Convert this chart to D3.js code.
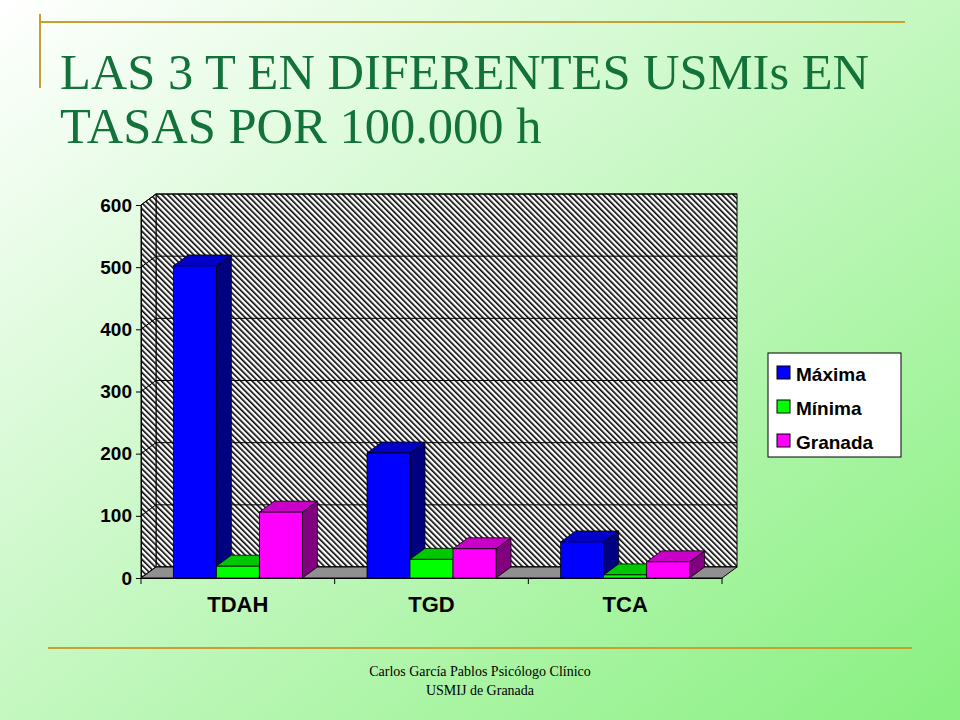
<!DOCTYPE html>
<html><head><meta charset="utf-8">
<script src="https://cdn.jsdelivr.net/npm/d3@7"></script>
<style>body{margin:0}svg{display:block}</style>
</head><body><div id="chart"></div>
<script>
const categories = ["TDAH", "TGD", "TCA"];
const seriesNames = ["Máxima", "Mínima", "Granada"];
const maxima = [502, 201, 58];
const minima = [19, 30, 5];
const granada = [106, 47, 26];
const yTicks = [0, 100, 200, 300, 400, 500, 600];
const colors = [["#0000ff", "#000080", "#0000c8"], ["#00ff00", "#008000", "#00c800"], ["#ff00ff", "#800080", "#c800c8"]];

const W = 960, H = 720;
const svg = d3.select("#chart").append("svg").attr("width", W).attr("height", H);
const defs = svg.append("defs");
const bg = defs.append("linearGradient").attr("id", "bg").attr("x1", 0).attr("y1", 0).attr("x2", 1).attr("y2", 1);
bg.append("stop").attr("offset", "0%").attr("stop-color", "#ffffff");
bg.append("stop").attr("offset", "100%").attr("stop-color", "#88f080");
const hatch = defs.append("pattern").attr("id", "hatch").attr("width", 4).attr("height", 4)
  .attr("patternUnits", "userSpaceOnUse").attr("patternTransform", "rotate(-45)");
hatch.append("rect").attr("width", 4).attr("height", 4).attr("fill", "#fff");
hatch.append("rect").attr("width", 1.6).attr("height", 4).attr("fill", "#000");

svg.append("rect").attr("width", W).attr("height", H).attr("fill", "url(#bg)");

// frame lines
svg.append("line").attr("x1", 40).attr("x2", 905).attr("y1", 22).attr("y2", 22).attr("stroke", "#c8a032").attr("stroke-width", 2);
svg.append("line").attr("x1", 40).attr("x2", 40).attr("y1", 14).attr("y2", 88).attr("stroke", "#c8a032").attr("stroke-width", 2);
svg.append("line").attr("x1", 48).attr("x2", 912).attr("y1", 648).attr("y2", 648).attr("stroke", "#c8a032").attr("stroke-width", 2);

svg.append("text").attr("x", 60).attr("y", 89).attr("font-family", "Liberation Serif").attr("font-size", 50.5).attr("fill", "#13713a").text("LAS 3 T EN DIFERENTES USMIs EN");
svg.append("text").attr("x", 60).attr("y", 143).attr("font-family", "Liberation Serif").attr("font-size", 50.5).attr("fill", "#13713a").text("TASAS POR 100.000 h");
svg.append("text").attr("x", 480).attr("y", 676).attr("text-anchor", "middle").attr("font-family", "Liberation Serif").attr("font-size", 14).text("Carlos García Pablos Psicólogo Clínico");
svg.append("text").attr("x", 480).attr("y", 695).attr("text-anchor", "middle").attr("font-family", "Liberation Serif").attr("font-size", 14).text("USMIJ de Granada");

const x0 = 141, x1 = 722, dx = 15, dy = -11;
const y = d3.scaleLinear().domain([0, 600]).range([578, 205]);
const x = d3.scaleBand().domain(categories).range([x0, x1]).paddingInner(0).paddingOuter(0);
const xs = d3.scaleBand().domain(seriesNames).range([0, 129]);

const g = svg.append("g");
// back wall and side wall
g.append("rect").attr("x", x0 + dx).attr("y", y(600) + dy).attr("width", x1 - x0).attr("height", y(0) - y(600))
  .attr("fill", "url(#hatch)").attr("stroke", "#000");
g.append("path").attr("d", `M${x0},${y(0)}L${x0},${y(600)}L${x0 + dx},${y(600) + dy}L${x0 + dx},${y(0) + dy}Z`)
  .attr("fill", "url(#hatch)").attr("stroke", "#000");
yTicks.forEach(t => {
  g.append("line").attr("x1", x0 + dx).attr("x2", x1 + dx).attr("y1", y(t) + dy).attr("y2", y(t) + dy).attr("stroke", "#000");
  g.append("line").attr("x1", x0).attr("x2", x0 + dx).attr("y1", y(t)).attr("y2", y(t) + dy).attr("stroke", "#000");
});
// floor
g.append("path").attr("d", `M${x0},${y(0)}L${x1},${y(0)}L${x1 + dx},${y(0) + dy}L${x0 + dx},${y(0) + dy}Z`)
  .attr("fill", "#909090").attr("stroke", "#000");

// bars
const series = [maxima, minima, granada];
const bw = xs.bandwidth();
categories.forEach((c, i) => {
  seriesNames.forEach((s, k) => {
    const v = series[k][i];
    const bx = x(c) + (x.bandwidth() - 129) / 2 + xs(s), by = y(v), b0 = y(0);
    const col = colors[k];
    g.append("path").attr("d", `M${bx + bw},${by}L${bx + bw + dx},${by + dy}L${bx + bw + dx},${b0 + dy}L${bx + bw},${b0}Z`)
      .attr("fill", col[1]).attr("stroke", "#000").attr("stroke-width", 0.8);
    g.append("path").attr("d", `M${bx},${by}L${bx + dx},${by + dy}L${bx + bw + dx},${by + dy}L${bx + bw},${by}Z`)
      .attr("fill", col[2]).attr("stroke", "#000").attr("stroke-width", 0.8);
    g.append("rect").attr("x", bx).attr("y", by).attr("width", bw).attr("height", b0 - by)
      .attr("fill", col[0]).attr("stroke", "#000").attr("stroke-width", 0.8);
  });
});

// axes
const ya = svg.append("g").attr("transform", `translate(${x0},0)`)
  .call(d3.axisLeft(y).tickValues(yTicks).tickSize(5).tickPadding(4));
ya.selectAll("text").attr("font-family", "Liberation Sans").attr("font-weight", "bold").attr("font-size", 19).attr("fill", "#000");
ya.selectAll("line,path").attr("stroke", "#000");
const xa = svg.append("g").attr("transform", `translate(0,${y(0)})`)
  .call(d3.axisBottom(x).tickSize(0).tickPadding(18));
xa.selectAll("text").attr("font-family", "Liberation Sans").attr("font-weight", "bold").attr("font-size", 22).attr("fill", "#000");
xa.select(".domain").attr("stroke", "#000");
[x0, ...categories.map(c => x(c) + x.bandwidth())].forEach(px =>
  svg.append("line").attr("x1", px).attr("x2", px).attr("y1", y(0)).attr("y2", y(0) + 6).attr("stroke", "#000"));

// legend
const lg = svg.append("g").attr("transform", "translate(768,353)");
lg.append("rect").attr("width", 133).attr("height", 104).attr("fill", "#fff").attr("stroke", "#000");
seriesNames.forEach((s, k) => {
  lg.append("rect").attr("x", 9).attr("y", 13 + k * 34).attr("width", 13).attr("height", 13).attr("fill", colors[k][0]).attr("stroke", "#000");
  lg.append("text").attr("x", 28).attr("y", 28 + k * 34).attr("font-family", "Liberation Sans").attr("font-weight", "bold").attr("font-size", 19).text(s);
});
</script></body></html>
